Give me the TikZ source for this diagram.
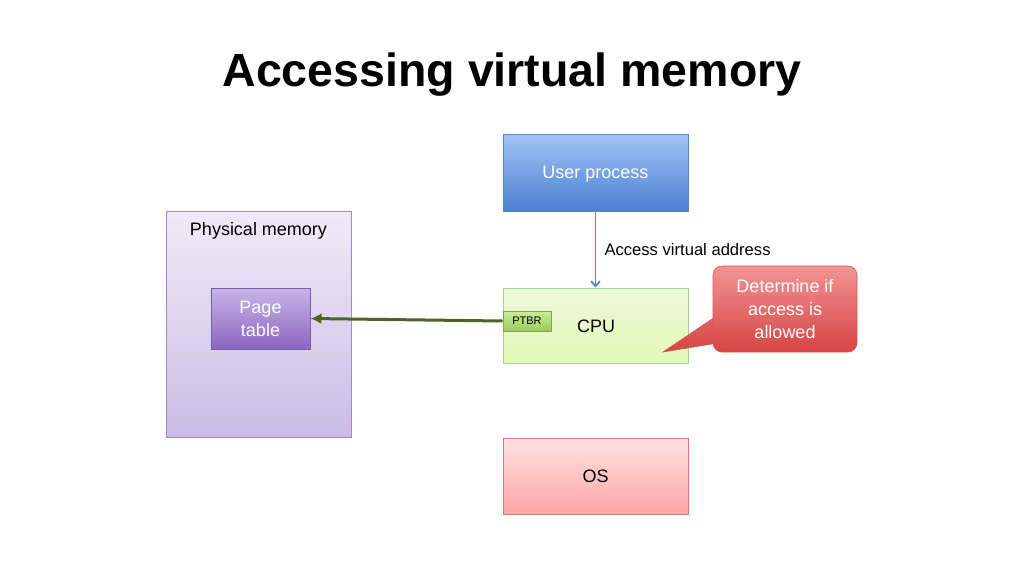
\documentclass[tikz,border=0pt]{standalone}
\usepackage{fontspec}
\setmainfont{Liberation Sans}
\usetikzlibrary{arrows.meta}
\definecolor{userTop}{HTML}{A3C3F7}
\definecolor{userBot}{HTML}{4A80D2}
\definecolor{userBd}{HTML}{5A86C6}
\definecolor{physTop}{HTML}{F0EBF7}
\definecolor{physBot}{HTML}{CBBCE5}
\definecolor{physBd}{HTML}{9F8AC8}
\definecolor{ptTop}{HTML}{C9B5E9}
\definecolor{ptBot}{HTML}{8A66BE}
\definecolor{ptBd}{HTML}{7A5BAE}
\definecolor{cpuTop}{HTML}{EEF8DA}
\definecolor{cpuBot}{HTML}{E2F9B8}
\definecolor{cpuBd}{HTML}{A9D18E}
\definecolor{ptbrTop}{HTML}{CDEB9A}
\definecolor{ptbrBot}{HTML}{9ACB5A}
\definecolor{ptbrBd}{HTML}{7EA745}
\definecolor{osTop}{HTML}{FFE3E3}
\definecolor{osBot}{HTML}{FFA5A5}
\definecolor{osBd}{HTML}{D67A7A}
\definecolor{callTop}{HTML}{F39494}
\definecolor{callBot}{HTML}{D64444}
\definecolor{callBd}{HTML}{D05A58}
\definecolor{arrGreen}{HTML}{4F6228}
\definecolor{arrBlue}{HTML}{5A87C8}
\tikzset{
  box/.style={draw, line width=1pt, inner sep=0pt, text depth=0pt, font=\fontsize{18}{23}\selectfont, align=center},
}
\begin{document}
\begin{tikzpicture}[x=1pt,y=-1pt]
\useasboundingbox (0,0) rectangle (1024,576);
\fill[white] (0,0) rectangle (1024,576);
\node[font=\fontsize{46.5}{50}\selectfont\bfseries] (title) at (512,75) {Accessing virtual memory};
% boxes
\node[box, draw=userBd, top color=userTop, bottom color=userBot, text=white, minimum width=185, minimum height=77] (user) at (595.5,172.5) {User process};
\node[box, draw=physBd, top color=physTop, bottom color=physBot, minimum width=185, minimum height=226] (phys) at (258.5,324) {};
\node[font=\fontsize{18}{23}\selectfont, text depth=0pt, anchor=center] (physlbl) at (258.5,228.5) {Physical memory};
\node[box, draw=ptBd, top color=ptTop, bottom color=ptBot, text=white, minimum width=99, minimum height=61] (pt) at (260.5,318.5) {Page\\table};
\node[box, draw=cpuBd, top color=cpuTop, bottom color=cpuBot, minimum width=185, minimum height=75] (cpu) at (595.5,325.5) {};
\node[font=\fontsize{18}{23}\selectfont, text depth=0pt] (cpulbl) at (596,326) {CPU};
\node[box, draw=ptbrBd, top color=ptbrTop, bottom color=ptbrBot, font=\fontsize{11}{13}\selectfont, minimum width=48, minimum height=20] (ptbr) at (527,321) {PTBR};
\node[box, draw=osBd, top color=osTop, bottom color=osBot, minimum width=185, minimum height=76] (os) at (595.5,476) {OS};
% callout
\coordinate (tip) at (663,352);
\shade[top color=callBot!57!callTop, bottom color=callBot, draw=callBd, line width=0.6pt] (718,315) -- (tip) -- (718,343) -- cycle;
\node[box, draw=callBd, line width=0.6pt, rounded corners=9, top color=callTop, bottom color=callBot, text=white, minimum width=144, minimum height=86] (call) at (785,309) {Determine if\\access is\\allowed};
% connectors
\draw[arrBlue, line width=1.8pt, -{Straight Barb[length=5pt,width=9pt]}] (user.south) -- (cpu.north);
\node[font=\fontsize{16.6}{20}\selectfont, text depth=0pt, anchor=west] (lbl) at (601,249) {Access virtual address};
\draw[arrGreen, line width=3pt, -{Latex[length=11pt,width=11pt]}] (ptbr.west) -- (pt.east);
\end{tikzpicture}
\end{document}
